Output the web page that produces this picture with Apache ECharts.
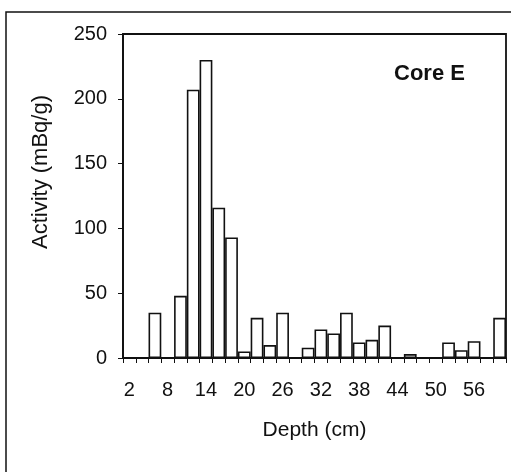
<!DOCTYPE html>
<html>
<head>
<meta charset="utf-8">
<script src="https://cdn.jsdelivr.net/npm/echarts@6/dist/echarts.min.js"></script>
<style>html,body{margin:0;padding:0;background:#fff;}#c{width:511px;height:472px;}</style>
</head>
<body>
<div id="c"></div>
<script>
const depths = ['2','4','6','8','10','12','14','16','18','20','22','24','26','28','30','32','34','36','38','40','42','44','46','48','50','52','54','56','58','60'];
const activity = [0,0,35,0,48,207,230,116,93,5,31,10,35,0,8,22,19,35,12,14,25,0,3,0,0,12,6,13,0,31];
const yTicks = [0,50,100,150,200,250];

const FONT = 'Liberation Sans, Arial, sans-serif';
const chart = echarts.init(document.getElementById('c'), null, {renderer:'canvas'});
chart.setOption({
  animation:false,
  backgroundColor:'#fff',
  graphic:[
    {type:'rect', shape:{x:6, y:12, width:530, height:480}, style:{fill:'none', stroke:'#111', lineWidth:1.5}, z:-1},
    {type:'text', left:394, top:63, style:{text:'Core E', font:'bold 22px ' + FONT, fill:'#111'}},
    {type:'text', x:41, y:172, rotation:Math.PI/2,
      style:{text:'Activity (mBq/g)', font:'22px ' + FONT, fill:'#111', textAlign:'center', textVerticalAlign:'middle'}}
  ],
  grid:{left:123, top:34, right:5, bottom:114, show:true, borderColor:'#111', borderWidth:1.8, backgroundColor:'transparent'},
  xAxis:{
    type:'category', data:depths,
    name:'Depth (cm)', nameLocation:'middle', nameGap:62,
    nameTextStyle:{fontFamily:FONT, fontSize:21, color:'#111'},
    axisLine:{lineStyle:{color:'#111', width:1.8}},
    axisTick:{show:true, interval:0, length:5, lineStyle:{color:'#111', width:1}},
    axisLabel:{interval:2, fontFamily:FONT, fontSize:20, color:'#111', margin:22}
  },
  yAxis:{
    type:'value', min:0, max:250, interval:50,
    axisLine:{show:true, lineStyle:{color:'#111', width:1.8}},
    axisTick:{show:true, length:5, lineStyle:{color:'#111', width:1}},
    axisLabel:{fontFamily:FONT, fontSize:20, color:'#111', margin:16,
      formatter:function(v){return yTicks.indexOf(v)>=0 ? String(v) : '';}},
    splitLine:{show:false}
  },
  series:[{
    type:'bar', data:activity, barCategoryGap:'0%',
    itemStyle:{color:'#fff', borderColor:'#111', borderWidth:1.6}
  }]
});
</script>
</body>
</html>
